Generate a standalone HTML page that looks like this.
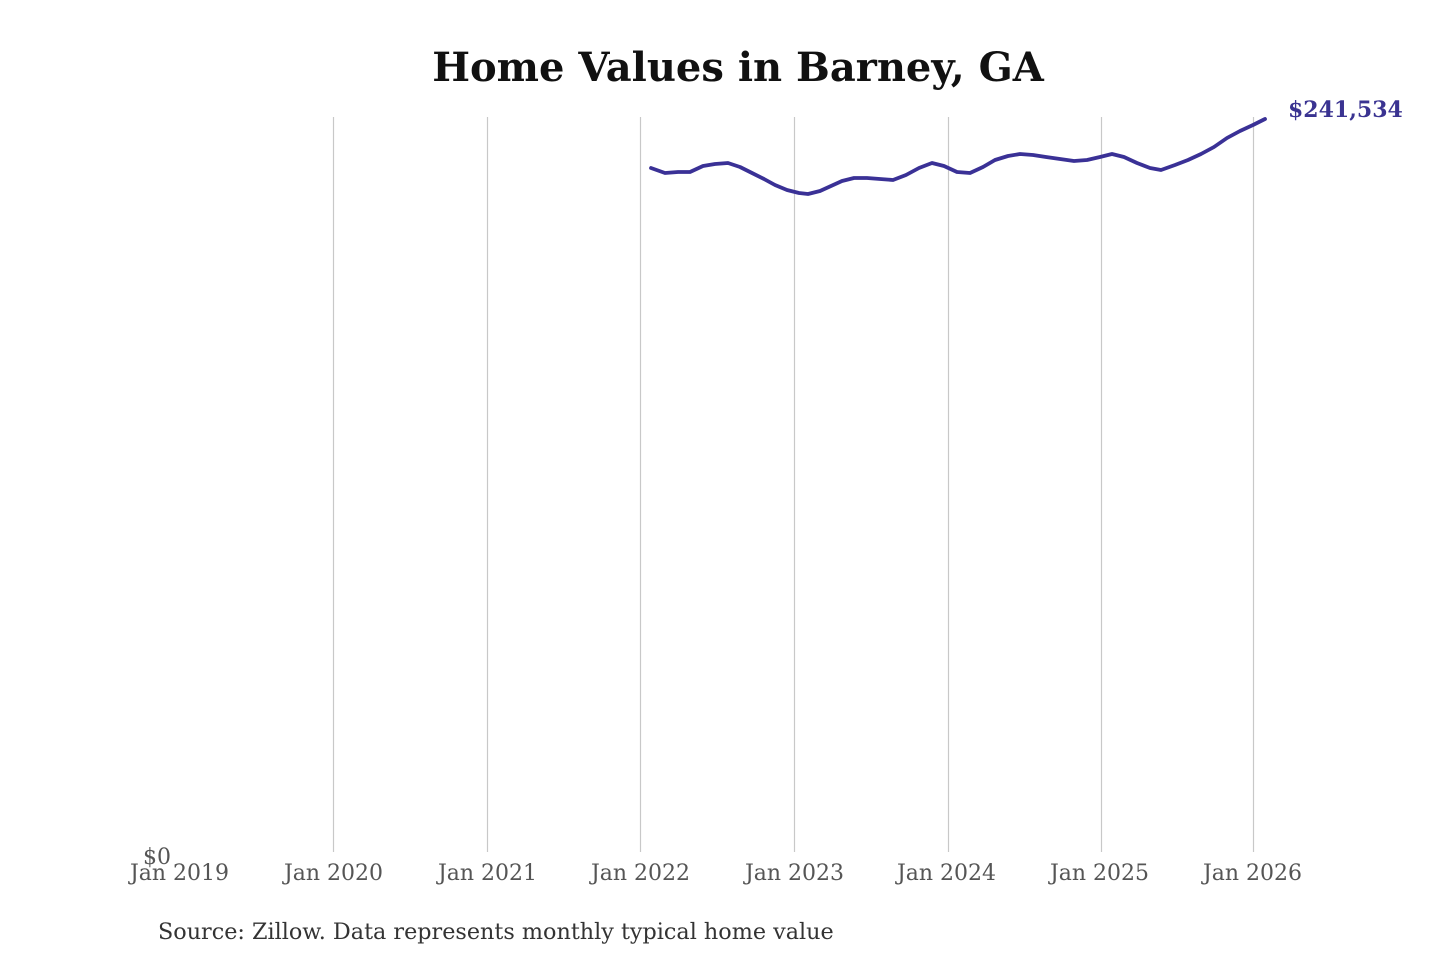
<!DOCTYPE html>
<html><head><meta charset="utf-8"><style>
html,body{margin:0;padding:0;background:#fff;}
svg{display:block;}
</style></head><body>
<svg width="1440" height="960" viewBox="0 0 1440 960" xmlns="http://www.w3.org/2000/svg">
<rect width="1440" height="960" fill="#fff"/>
<text x="738" y="81" text-anchor="middle" font-family="'DejaVu Serif','Liberation Serif',serif" font-weight="bold" font-size="40" fill="#111">Home Values in Barney, GA</text>
<g stroke="#c8c8c8" stroke-width="1.2">
<line x1="333.5" y1="117" x2="333.5" y2="852"/>
<line x1="487.5" y1="117" x2="487.5" y2="852"/>
<line x1="640.5" y1="117" x2="640.5" y2="852"/>
<line x1="794.5" y1="117" x2="794.5" y2="852"/>
<line x1="948.5" y1="117" x2="948.5" y2="852"/>
<line x1="1101.5" y1="117" x2="1101.5" y2="852"/>
<line x1="1253.5" y1="117" x2="1253.5" y2="852"/>
</g>
<polyline fill="none" stroke="#3a3196" stroke-width="3.8" stroke-linejoin="round" stroke-linecap="round" points="651,168 665,173 678,172 690,172 703,166 715,164 728,163 740,167 752,173 764,179 775,185 787,190 799,193 808,194 820,191 831,186 842,181 854,178 867,178 880,179 893,180 906,175 919,168 932,163 944,166 957,172 970,173 983,167 995,160 1008,156 1020,154 1033,155 1046,157 1060,159 1074,161 1087,160 1100,157 1112,154 1124,157 1137,163 1150,168 1161,170 1175,165 1188,160 1201,154 1214,147 1227,138 1240,131 1253,125 1265,119"/>
<text x="1288" y="117" font-family="'DejaVu Serif','Liberation Serif',serif" font-weight="bold" font-size="22" fill="#3a3391">$241,534</text>
<g font-family="'DejaVu Serif','Liberation Serif',serif" font-size="22" fill="#555" text-anchor="middle">
<text x="179.5" y="880">Jan 2019</text>
<text x="333.5" y="880">Jan 2020</text>
<text x="487.5" y="880">Jan 2021</text>
<text x="640.5" y="880">Jan 2022</text>
<text x="794.5" y="880">Jan 2023</text>
<text x="946.5" y="880">Jan 2024</text>
<text x="1099.5" y="880">Jan 2025</text>
<text x="1252.5" y="880">Jan 2026</text>
</g>
<text x="171" y="864" text-anchor="end" font-family="'DejaVu Serif','Liberation Serif',serif" font-size="22" fill="#555">$0</text>
<text x="158" y="939" font-family="'DejaVu Serif','Liberation Serif',serif" font-size="22.3" fill="#333">Source: Zillow. Data represents monthly typical home value</text>
</svg>
</body></html>
